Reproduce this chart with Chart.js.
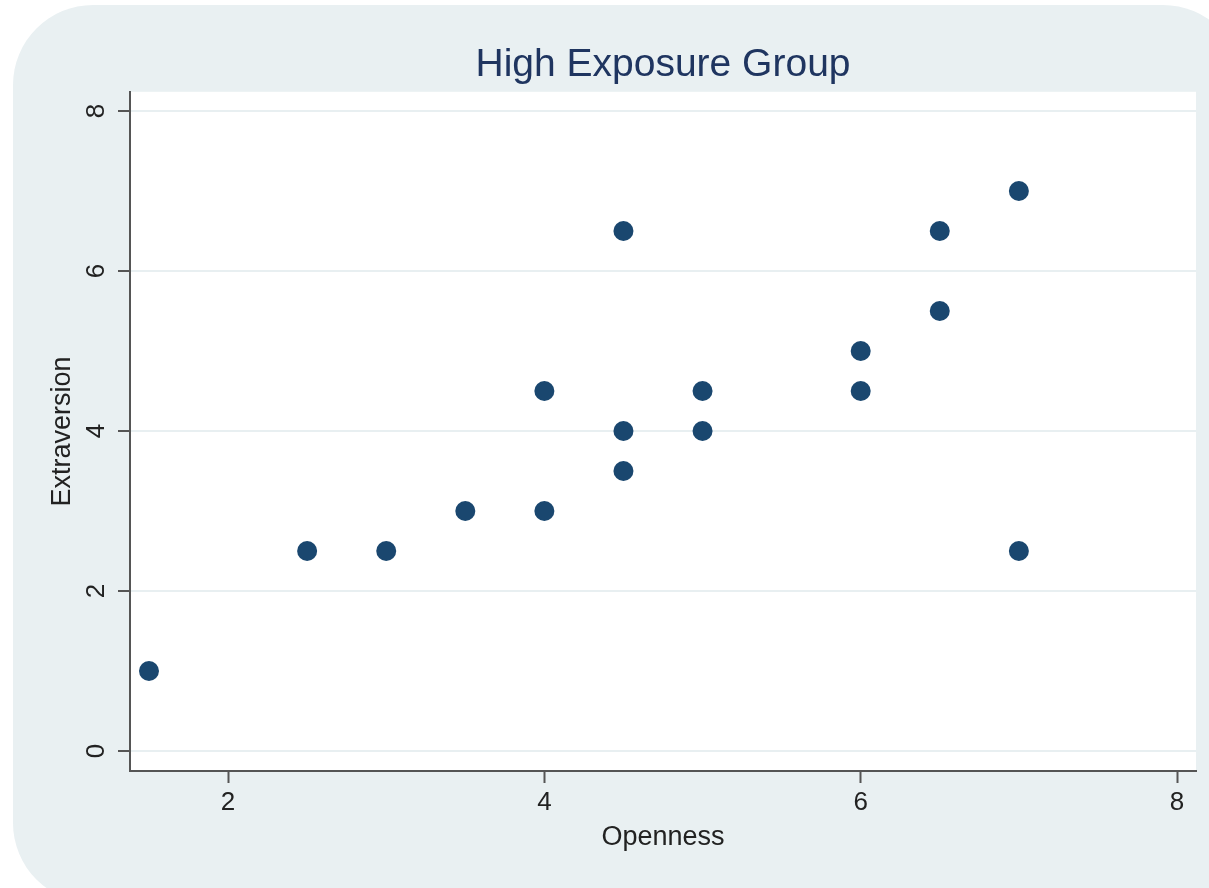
<!DOCTYPE html>
<html>
<head>
<meta charset="utf-8">
<script src="https://cdn.jsdelivr.net/npm/chart.js@4.4.1/dist/chart.umd.min.js"></script>
<style>
  html, body { margin: 0; padding: 0; background: #ffffff; overflow: hidden; width: 1209px; height: 888px; }
  #bg { position: absolute; left: 13px; top: 5px; width: 1230px; height: 898px; border-radius: 80px; background: #e9f0f2; }
  #c { position: absolute; left: 0; top: 0; }
</style>
</head>
<body>
<div id="bg"></div>
<canvas id="c" width="1209" height="888"></canvas>
<script>
const openness     = [1.5, 2.5, 3.0, 3.5, 4.0, 4.0, 4.5, 4.5, 4.5, 5.0, 5.0, 6.0, 6.0, 6.5, 6.5, 7.0, 7.0];
const extraversion = [1.0, 2.5, 2.5, 3.0, 3.0, 4.5, 3.5, 4.0, 6.5, 4.0, 4.5, 4.5, 5.0, 5.5, 6.5, 7.0, 2.5];
const xTicks = [2, 4, 6, 8];
const yTicks = [0, 2, 4, 6, 8];
const xRange = [1.38, 8.12];
const yRange = [-0.25, 8.24];

const points = openness.map((x, i) => ({ x: x, y: extraversion[i] }));
const FONT = "'Liberation Sans', Arial, Helvetica, sans-serif";

new Chart(document.getElementById('c'), {
  type: 'scatter',
  data: {
    datasets: [{
      data: points,
      backgroundColor: '#1a476f',
      borderColor: '#1a476f',
      borderWidth: 0,
      pointRadius: 10,
      pointHoverRadius: 10
    }]
  },
  options: {
    responsive: false,
    animation: false,
    events: [],
    layout: { padding: { left: 0, right: 13, top: 0, bottom: 0 } },
    plugins: {
      legend: { display: false },
      tooltip: { enabled: false },
      title: {
        display: true,
        text: 'High Exposure Group',
        fullSize: false,
        color: '#1f3560',
        font: { family: FONT, size: 39, weight: 'normal' },
        padding: { top: 42, bottom: 3 }
      }
    },
    scales: {
      x: {
        type: 'linear',
        min: xRange[0],
        max: xRange[1],
        afterBuildTicks: s => { s.ticks = xTicks.map(v => ({ value: v })); },
        afterFit: s => { s.height = 117; },
        border: { display: true, color: '#555555', width: 2 },
        grid: { drawOnChartArea: false, drawTicks: true, tickLength: 12, tickColor: '#555555', tickWidth: 2 },
        ticks: { color: '#222222', padding: 4, font: { family: FONT, size: 26 }, maxRotation: 0 },
        title: { display: true, text: 'Openness', color: '#222222', font: { family: FONT, size: 27 }, padding: { top: 0, bottom: 34 } }
      },
      y: {
        type: 'linear',
        min: yRange[0],
        max: yRange[1],
        afterBuildTicks: s => { s.ticks = yTicks.map(v => ({ value: v })); },
        afterFit: s => { s.width = 130; },
        border: { display: true, color: '#555555', width: 2 },
        grid: { drawOnChartArea: true, color: '#e8eff1', lineWidth: 2, drawTicks: true, tickLength: 12, tickColor: '#555555', tickWidth: 2 },
        ticks: { color: '#222222', padding: 14, crossAlign: 'center', minRotation: 90, maxRotation: 90, font: { family: FONT, size: 26 } },
        title: { display: true, text: 'Extraversion', color: '#222222', font: { family: FONT, size: 27 }, padding: { top: 46, bottom: 0 } }
      }
    }
  },
  plugins: [{
    id: 'plotBg',
    beforeDraw(chart) {
      const { ctx, chartArea: a } = chart;
      ctx.save();
      ctx.fillStyle = '#ffffff';
      ctx.fillRect(a.left, a.top, a.right - a.left, a.bottom - a.top);
      ctx.restore();
    }
  }]
});
</script>
</body>
</html>
